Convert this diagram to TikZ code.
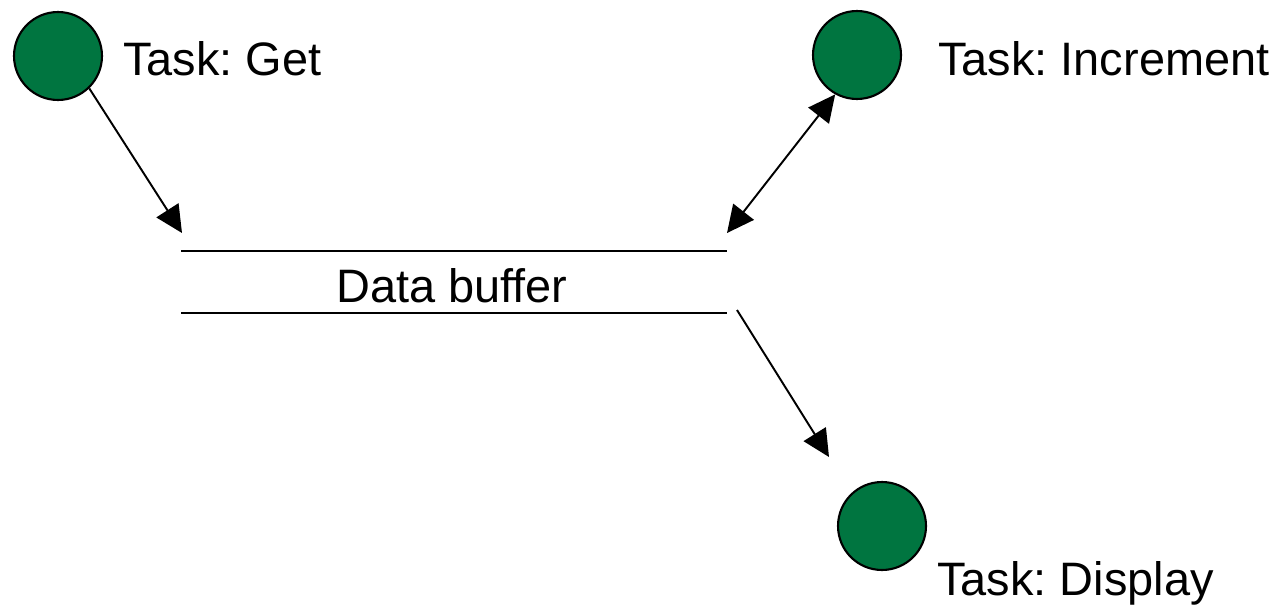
\documentclass[tikz,border=0pt]{standalone}
\usepackage{fontspec}
\setmainfont{Liberation Sans}
\usepackage{tikz}
\usetikzlibrary{shapes,arrows.meta}
\frenchspacing
\definecolor{taskgreen}{RGB}{0,117,64}
\tikzset{>={Triangle[length=0.54cm,width=0.52cm]}}
\tikzstyle{task} = [circle, draw, line width=1.2pt, fill=taskgreen, minimum size=1.76cm, inner sep=0pt]
\tikzstyle{tasktext} = [anchor=base west, inner sep=0pt, font=\fontsize{26.7}{32}\selectfont]
\tikzstyle{line} = [draw, line width=1.1pt, ->]
\tikzstyle{bufline} = [draw, line width=1.1pt]

\begin{document}
\begin{tikzpicture}[x=0.02cm, y=-0.02cm]
					\useasboundingbox (0,0) rectangle (1283,605);
					\node [task] (get) at (58,56) {};
					\node [task] (increment) at (857,55) {};
					\node [task] (display) at (882,526) {};
					\node [tasktext] (getname) at (123,75) {Task: Get};
					\node [tasktext] (incname) at (938,75) {Task: Increment};
					\node [tasktext] (dispname) at (937,595) {Task: Display};
					\node [tasktext, anchor=base] (buffer) at (452,302) {Data buffer};
					% buffer edges and free arrow ends
					\coordinate (bufNW) at (181,251);
					\coordinate (bufNE) at (727,251);
					\coordinate (bufSW) at (181,313);
					\coordinate (bufSE) at (727,313);
					\coordinate (getin) at (182,233);
					\coordinate (incin) at (727,233);
					\coordinate (dispout) at (737,310);
					\coordinate (dispin) at (829,457);
					\path [bufline] (bufNW) -- (bufNE);
					\path [bufline] (bufSW) -- (bufSE);
					\path [line] (get.-46) -- (getin);
					\path [line, <->] (incin) -- (increment.-119);
					\path [line] (dispout) -- (dispin);
				\end{tikzpicture}
\end{document}
